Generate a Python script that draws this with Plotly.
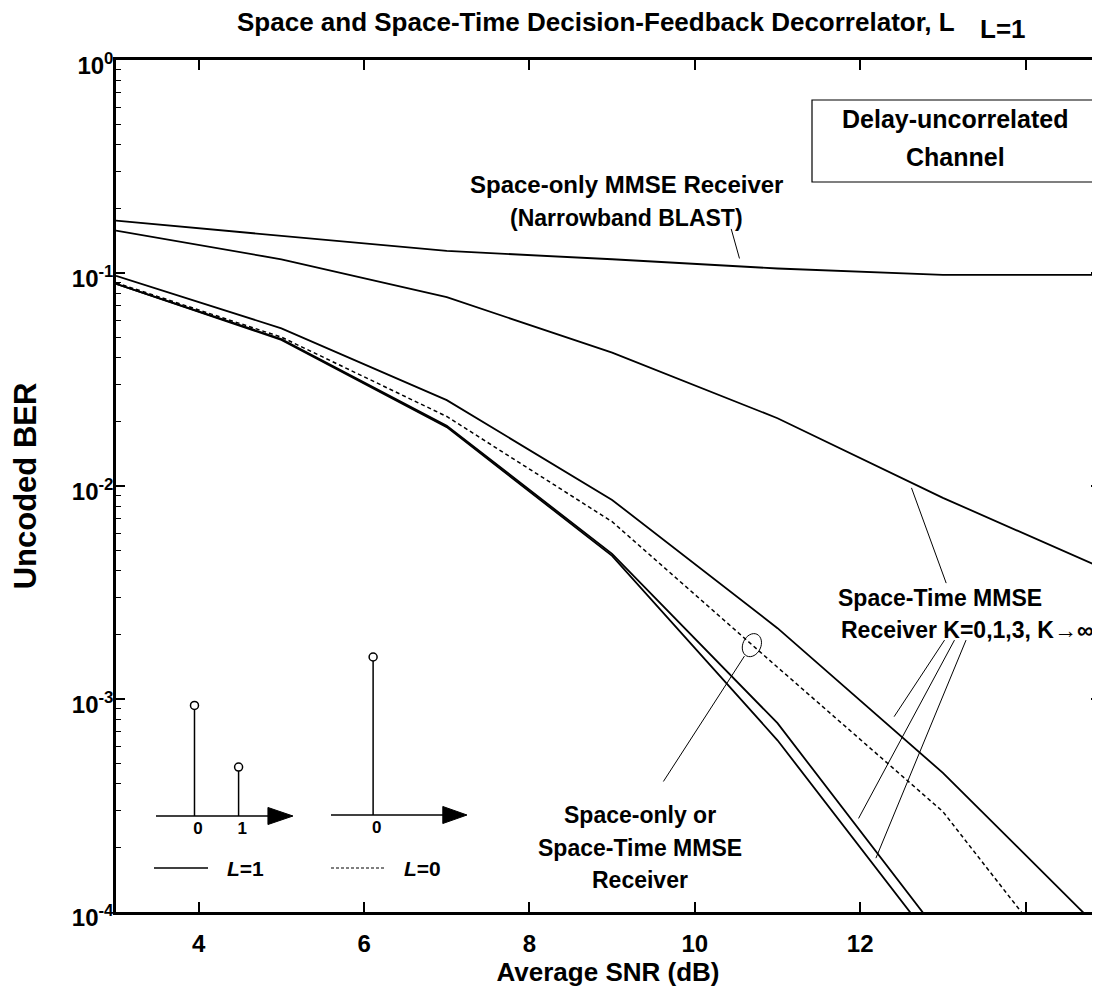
import math
import plotly.graph_objects as go

# ---- data ----
snr_db = [3, 5, 7, 9, 11, 13, 15]

ber_narrowband_blast = [0.176, 0.150, 0.127, 0.116, 0.105, 0.098, 0.098]
ber_st_k0 = [0.158, 0.116, 0.077, 0.0423, 0.0208, 0.0088, 0.0040]
ber_st_k1 = [0.097, 0.055, 0.0253, 0.0086, 0.00215, 0.00045, 0.000076]
ber_st_k3 = [0.089, 0.049, 0.0192, 0.0048, 0.00077, 0.000075]
ber_st_kinf = [0.089, 0.0485, 0.0189, 0.0047, 0.00064, 0.000063]
ber_l0 = [0.090, 0.050, 0.0212, 0.0068, 0.00141, 0.000296, 0.00003]

x_tickvals = [4, 6, 8, 10, 12, 14]
x_ticktext = ['4', '6', '8', '10', '12', '']
y_tickvals = [1, 1e-1, 1e-2, 1e-3, 1e-4]
y_ticktext = ['10<sup>0</sup>', '10<sup>-1</sup>', '10<sup>-2</sup>',
              '10<sup>-3</sup>', '10<sup>-4</sup>']
y_minor = [m * 10 ** e for e in range(-4, 0) for m in range(2, 10)]

# channel impulse responses drawn in the inset (tap index, magnitude)
taps_l1 = [0, 1]
mags_l1 = [0.70, 0.31]
taps_l0 = [0]
mags_l0 = [1.0]

# leader lines (snr, ber) pairs
leaders = [
    ([10.44, 10.54], [0.161, 0.117]),
    ([12.62, 13.04], [0.0098, 0.0035]),
    ([13.02, 12.41], [0.00189, 0.000826]),
    ([13.14, 11.98], [0.00189, 0.000275]),
    ([13.28, 12.19], [0.00189, 0.000179]),
    ([10.60, 9.62], [0.00159, 0.00041]),
]
ellipse_center = (10.69, 0.00179)

FONT = 'Liberation Sans, Arial, sans-serif'

# plot area as seen on screen (the page body adds an 8px offset)
OFF = 8
L, R, T, B = 116, 1100, 60, 912
W, H = 1100, 998


def px(x):
    return (x - L) / (R - L)


def py(y):
    return (B - y) / (B - T)


def ellipse_path(rx, ry, tilt_deg):
    k = 0.5523
    pts = [(rx, 0), (rx, k * ry), (k * rx, ry), (0, ry), (-k * rx, ry), (-rx, k * ry),
           (-rx, 0), (-rx, -k * ry), (-k * rx, -ry), (0, -ry), (k * rx, -ry), (rx, -k * ry),
           (rx, 0)]
    a = math.radians(tilt_deg)
    rot = [(x * math.cos(a) - y * math.sin(a), x * math.sin(a) + y * math.cos(a)) for x, y in pts]
    s = 'M %.2f,%.2f' % rot[0]
    for i in range(1, 13, 3):
        s += ' C %.2f,%.2f %.2f,%.2f %.2f,%.2f' % (*rot[i], *rot[i + 1], *rot[i + 2])
    return s + ' Z'


fig = go.Figure()

line = dict(color='black', width=1.8)
for ys in [ber_narrowband_blast, ber_st_k0, ber_st_k1, ber_st_k3, ber_st_kinf]:
    fig.add_trace(go.Scatter(x=snr_db[:len(ys)], y=ys, mode='lines', line=line,
                             showlegend=False))
fig.add_trace(go.Scatter(x=snr_db, y=ber_l0, mode='lines',
                         line=dict(color='black', width=1.5, dash='4px,3px'),
                         showlegend=False))

for lx, ly in leaders:
    fig.add_trace(go.Scatter(x=lx, y=ly, mode='lines',
                             line=dict(color='black', width=1), showlegend=False))

# ellipse around the L=0 curve
fig.add_shape(type='path', xref='x', yref='y', xsizemode='pixel', ysizemode='pixel',
              xanchor=ellipse_center[0], yanchor=ellipse_center[1],
              path=ellipse_path(9, 12, -25), line=dict(color='black', width=1))

# inset stems
insets = [('x2', 'y2', taps_l1, mags_l1, -0.873, 1.666, 2.234),
          ('x3', 'y3', taps_l0, mags_l0, -0.961, 1.591, 2.143)]
for xa, ya, taps, mags, x_start, x_base, x_tip in insets:
    sx, sy = [x_start, x_base + 0.05, None], [0, 0, None]
    for t, m in zip(taps, mags):
        sx += [t, t, None]
        sy += [0, m, None]
    fig.add_trace(go.Scatter(x=sx, y=sy, mode='lines', xaxis=xa, yaxis=ya,
                             line=dict(color='black', width=1.5), showlegend=False,
                             cliponaxis=False))
    fig.add_trace(go.Scatter(x=taps, y=mags, mode='markers', xaxis=xa, yaxis=ya,
                             marker=dict(symbol='circle', size=8, color='white',
                                         line=dict(color='black', width=1.5)),
                             showlegend=False, cliponaxis=False))
    fig.add_trace(go.Scatter(x=[t + 0.08 for t in taps], y=[-0.085] * len(taps),
                             mode='text', text=[f'<b>{t}</b>' for t in taps],
                             textfont=dict(size=17, family=FONT, color='black'),
                             xaxis=xa, yaxis=ya, showlegend=False, cliponaxis=False))
    fig.add_shape(type='path', xref=xa, yref=ya,
                  path=f'M {x_base},-0.054 L {x_tip},0 L {x_base},0.054 Z',
                  fillcolor='black', line=dict(color='black', width=1))

# line-style key
fig.add_shape(type='line', xref='paper', yref='paper', x0=px(154), x1=px(208),
              y0=py(868), y1=py(868), line=dict(color='black', width=1.5))
fig.add_shape(type='line', xref='paper', yref='paper', x0=px(331), x1=px(385),
              y0=py(868), y1=py(868), line=dict(color='black', width=1.2, dash='3px,2px'))

# channel box
fig.add_shape(type='rect', xref='paper', yref='paper', x0=px(812), x1=px(1097),
              y0=py(182), y1=py(100), line=dict(color='black', width=1.2))


def label(text, x, y, size=23, **kw):
    fig.add_annotation(text=text, x=px(x), y=py(y), xref='paper', yref='paper',
                       xanchor='center', yanchor='middle', showarrow=False,
                       font=dict(family=FONT, size=size, color='black'), **kw)


label('<b>Space and Space-Time Decision-Feedback Decorrelator, L</b>', 596, 22, size=26)
label('<b>L=1</b>', 1003, 29, size=26)
label('<b>Delay-uncorrelated</b>', 955, 119, size=25)
label('<b>Channel</b>', 955, 157, size=25)
label('<b>Space-only MMSE Receiver</b>', 626, 185, size=24)
label('<b>(Narrowband BLAST)</b>', 626, 218)
label('<b>Space-Time MMSE</b>', 940, 598)
label('<b>Receiver K=0,1,3, K\u2192\u221e</b>', 967, 630)
label('<b>Space-only or</b>', 640, 815)
label('<b>Space-Time MMSE</b>', 640, 848)
label('<b>Receiver</b>', 640, 880)
label('<b><i>L</i>=1</b>', 245, 868, size=21)
label('<b><i>L</i>=0</b>', 422, 868, size=21)

tickfont = dict(size=24, family=FONT, weight='bold', color='black')
inset_axis = dict(showgrid=False, zeroline=False, visible=False, fixedrange=True)
fig.update_layout(
    width=W, height=H,
    margin=dict(l=L - OFF, r=W - R + OFF, t=T - OFF, b=H - B + OFF),
    plot_bgcolor='white', paper_bgcolor='white',
    font=dict(family=FONT, color='black'),
    xaxis=dict(range=[3, 14.9], tickvals=x_tickvals, ticktext=x_ticktext,
               ticks='inside', ticklen=10, tickwidth=1.5, tickcolor='black',
               showline=True, linewidth=2.5, linecolor='black', mirror='allticks',
               showgrid=False, zeroline=False, ticklabelstandoff=8, automargin=False,
               tickfont=tickfont,
               title=dict(text='Average SNR (dB)', standoff=8,
                          font=dict(size=26, weight='bold', family=FONT))),
    yaxis=dict(type='log', range=[-4, 0], tickvals=y_tickvals, ticktext=y_ticktext,
               ticks='inside', ticklen=9, tickwidth=1.5, tickcolor='black',
               minor=dict(tickvals=y_minor, ticks='inside', ticklen=5, tickwidth=1,
                          tickcolor='black', showgrid=False),
               showline=True, linewidth=2.5, linecolor='black', mirror='allticks',
               showgrid=False, zeroline=False, ticklabelstandoff=-5, ticklabelshift=6,
               automargin=False, tickfont=tickfont,
               title=dict(text='Uncoded BER', standoff=28,
                          font=dict(size=31, weight='bold', family=FONT))),
    xaxis2=dict(domain=[px(156), px(293)], range=[-0.873, 2.234], anchor='y2', **inset_axis),
    yaxis2=dict(domain=[py(816 + 0.12 * 158), py(816 - 158)], range=[-0.12, 1.0],
                anchor='x2', **inset_axis),
    xaxis3=dict(domain=[px(331), px(467)], range=[-0.961, 2.143], anchor='y3', **inset_axis),
    yaxis3=dict(domain=[py(815 + 0.12 * 158), py(815 - 158)], range=[-0.12, 1.0],
                anchor='x3', **inset_axis),
)

fig.write_html("out.html")
